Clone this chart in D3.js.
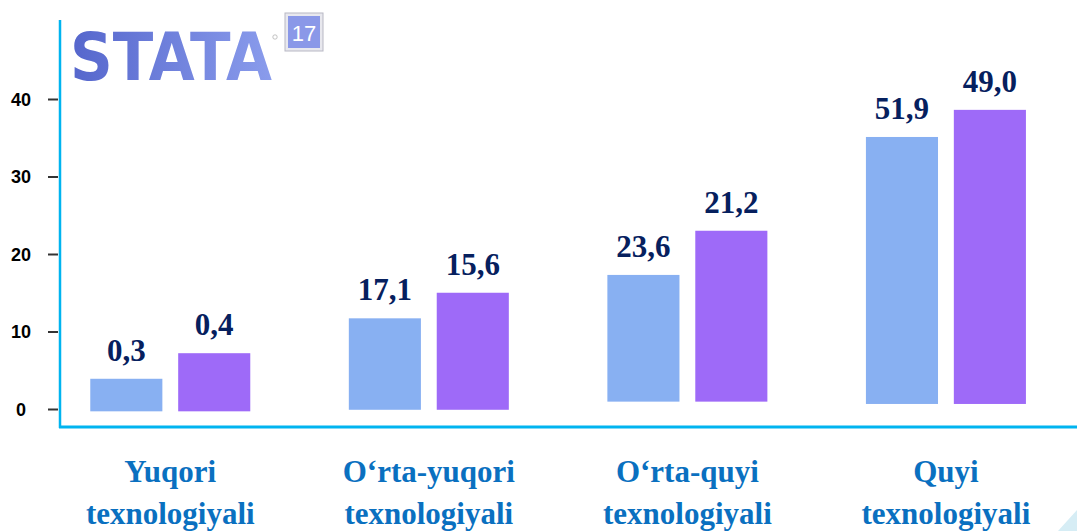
<!DOCTYPE html>
<html>
<head>
<meta charset="utf-8">
<script src="https://cdn.jsdelivr.net/npm/d3@7"></script>
<style>
  body { margin: 0; background: #fff; }
  svg { display: block; }
</style>
</head>
<body>
<div id="viz"></div>
<script>
// chart data
const catLine1 = ["Yuqori", "O\u2018rta-yuqori", "O\u2018rta-quyi", "Quyi"];
const catLine2 = ["texnologiyali", "texnologiyali", "texnologiyali", "texnologiyali"];
// bar heights as drawn against the left axis
const series1 = [3.9, 11.7, 17.3, 35.1];
const series2 = [7.2, 15.0, 23.0, 38.6];
// bars do not all start at zero on the slide
const barBase = [-0.3, -0.1, 0.95, 0.65];
// printed value labels
const labels1 = ["0,3", "17,1", "23,6", "51,9"];
const labels2 = ["0,4", "15,6", "21,2", "49,0"];
const yTicks = [0, 10, 20, 30, 40];

const width = 1077;
const height = 531;

const svg = d3.select("#viz")
    .append("svg")
    .attr("width", width)
    .attr("height", height);

// scales
const y = d3.scaleLinear().domain([0, 40]).range([409, 99]);
const x = d3.scaleBand().domain(d3.range(catLine1.length)).range([41, 1075.2]);
const xin = d3.scaleBand().domain([0, 1]).range([0, 160]).paddingInner(0.18);
const groupLeft = i => x(i) + x.bandwidth() / 2 - 80;

const colors = ["#88b0f2", "#9e6af8"];

// logo (top-left), squeezed horizontally to fit its box
const grad = svg.append("defs").append("linearGradient")
    .attr("id", "logoGrad").attr("x1", 0).attr("x2", 1).attr("y1", 0).attr("y2", 0);
grad.append("stop").attr("offset", "0%").attr("stop-color", "#5566cc");
grad.append("stop").attr("offset", "100%").attr("stop-color", "#8a9cec");
svg.append("g")
    .attr("transform", "translate(70,80) scale(0.9,1)")
    .append("text")
    .style("font", "bold 66px 'DejaVu Sans'")
    .attr("fill", "url(#logoGrad)")
    .text("STATA");
svg.append("circle")
    .attr("cx", 275).attr("cy", 37).attr("r", 2.2)
    .attr("fill", "none").attr("stroke", "#aaa").attr("stroke-width", 0.7);
const badge = svg.append("g").attr("transform", "translate(285,13)");
badge.append("rect")
    .attr("width", 38).attr("height", 38)
    .attr("fill", "#e8e8ee").attr("stroke", "#b8b8c4");
badge.append("rect")
    .attr("x", 3).attr("y", 3).attr("width", 32).attr("height", 32)
    .attr("fill", "#8a98e8");
badge.append("text")
    .attr("x", 19).attr("y", 28)
    .attr("text-anchor", "middle")
    .style("font", "22px 'Liberation Sans'")
    .attr("fill", "#fff")
    .text("17");

// y axis ticks
const yAxis = d3.axisLeft(y).tickValues(yTicks).tickSize(10).tickPadding(0);
const yg = svg.append("g")
    .attr("transform", "translate(58,0)")
    .call(yAxis);
yg.select(".domain").remove();
yg.selectAll(".tick line").attr("stroke", "#333").attr("stroke-width", 2);
yg.selectAll(".tick text")
    .attr("x", -37)
    .attr("dy", "0.36em")
    .attr("text-anchor", "middle")
    .style("font", "bold 18px 'Liberation Sans'")
    .attr("fill", "#000");

// axis lines
svg.append("line")
    .attr("x1", 60).attr("x2", 60)
    .attr("y1", 20).attr("y2", 428)
    .attr("stroke", "#00b4f0").attr("stroke-width", 2.5);
svg.append("line")
    .attr("x1", 59).attr("x2", width)
    .attr("y1", 427).attr("y2", 427)
    .attr("stroke", "#00b4f0").attr("stroke-width", 3);

// bars
const seriesList = [series1, series2];
const labelList = [labels1, labels2];
seriesList.forEach(function (s, k) {
    svg.append("g")
        .selectAll("rect")
        .data(s)
        .enter()
        .append("rect")
        .attr("x", (d, i) => groupLeft(i) + xin(k))
        .attr("width", xin.bandwidth())
        .attr("y", d => y(d))
        .attr("height", (d, i) => y(barBase[i]) - y(d))
        .attr("fill", colors[k]);

    svg.append("g")
        .selectAll("text")
        .data(labelList[k])
        .enter()
        .append("text")
        .attr("x", (d, i) => groupLeft(i) + xin(k) + xin.bandwidth() / 2)
        .attr("y", (d, i) => y(s[i]) - 18)
        .attr("text-anchor", "middle")
        .style("font", "bold 31px 'Liberation Serif'")
        .attr("fill", "#06205e")
        .text(d => d);
});

// category labels
const cat = svg.append("g")
    .selectAll("text")
    .data(catLine1)
    .enter()
    .append("text")
    .attr("text-anchor", "middle")
    .style("font", "bold 31px 'Liberation Serif'")
    .attr("fill", "#0a70c0");
cat.append("tspan")
    .attr("x", (d, i) => x(i) + x.bandwidth() / 2)
    .attr("y", 482)
    .text(d => d);
cat.append("tspan")
    .attr("x", (d, i) => x(i) + x.bandwidth() / 2)
    .attr("y", 524)
    .text((d, i) => catLine2[i]);

// corner decoration
svg.append("path")
    .attr("d", "M1058,531 L1077,510 L1077,531 Z")
    .attr("fill", "#d6edf5");
</script>
</body>
</html>
